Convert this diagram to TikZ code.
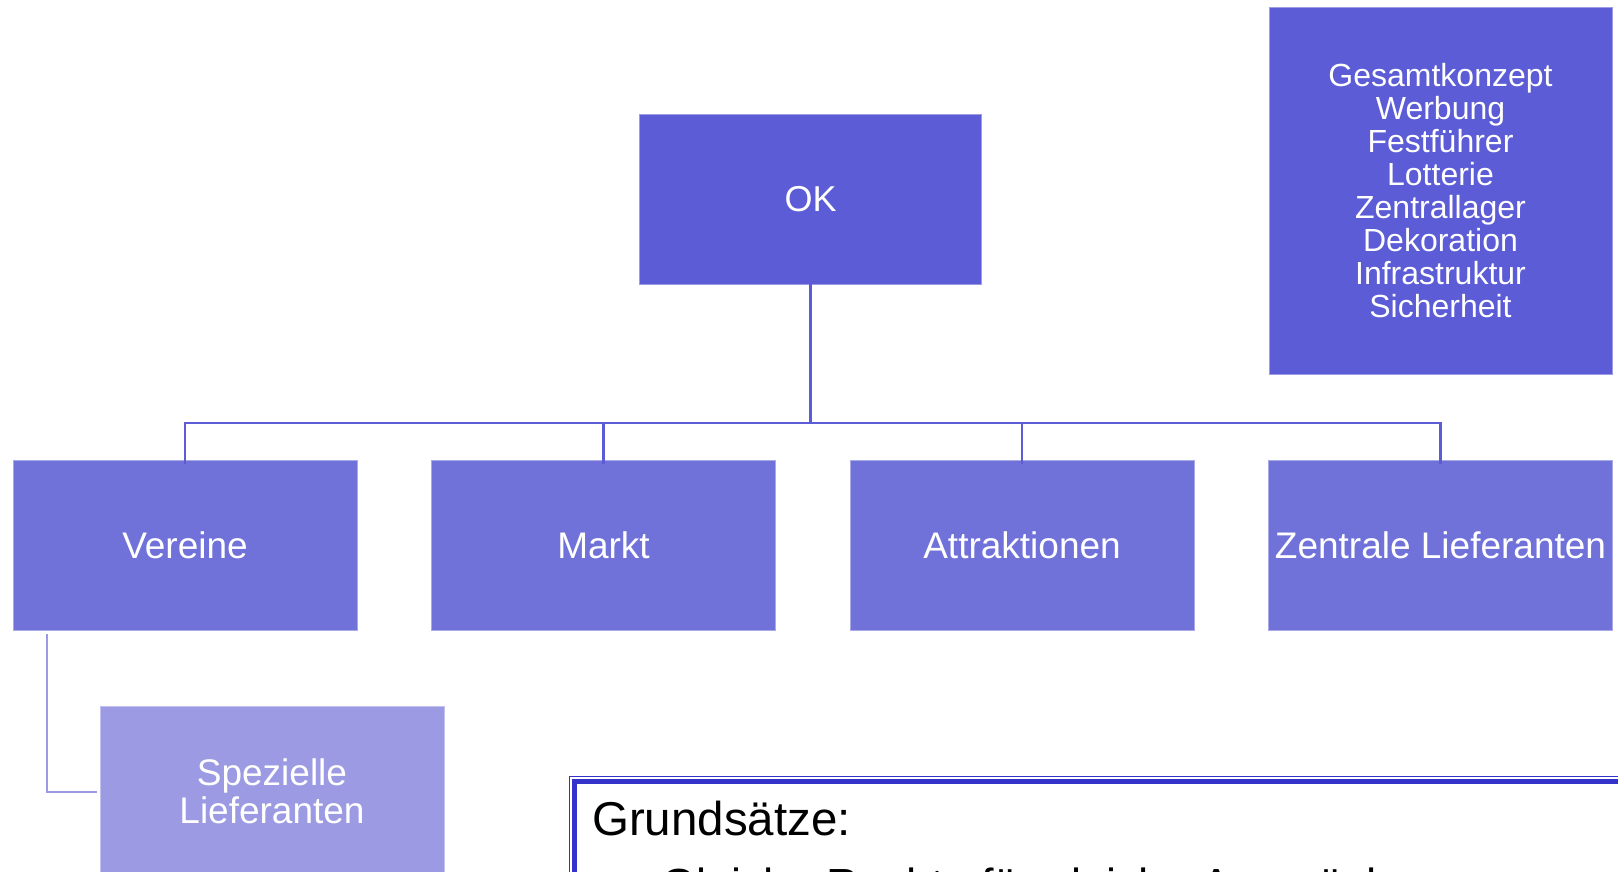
\documentclass[tikz,border=0pt]{standalone}
\usepackage{fontspec}
\setmainfont{Liberation Sans}
\definecolor{darkbox}{RGB}{91,92,214}
\definecolor{midbox}{RGB}{112,114,217}
\definecolor{lightbox}{RGB}{155,154,227}
\definecolor{linecol}{RGB}{91,92,214}
\definecolor{framecol}{RGB}{51,51,204}
\begin{document}
\begin{tikzpicture}[x=1pt,y=-1pt,
  box/.style={rectangle, inner sep=0pt, text=white, align=center, line width=0.8pt},
  topbox/.style={box, fill=darkbox, draw=darkbox!60!white},
  childbox/.style={box, fill=midbox, draw=midbox!60!white, minimum width=344pt, minimum height=170pt, font=\fontsize{37}{38}\selectfont},
  subbox/.style={box, fill=lightbox, draw=lightbox!60!white, minimum width=344pt, minimum height=170pt, font=\fontsize{37}{38}\selectfont},
  conn/.style={draw=linecol, line width=2.6pt},
  subconn/.style={draw=lightbox, line width=2.2pt}
]
\useasboundingbox (0,0) rectangle (1618,872);
\clip (0,0) rectangle (1618,872);
\fill[white] (0,0) rectangle (1618,872);

% top nodes
\node[topbox, minimum width=342pt, minimum height=170pt, font=\fontsize{36}{40}\selectfont] (ok) at (810.5,199) {OK};
\node[topbox, minimum width=343pt, minimum height=367pt, font=\fontsize{32}{33}\selectfont] (list) at (1440.5,190.5)
  {Gesamtkonzept\\Werbung\\Festführer\\Lotterie\\Zentrallager\\Dekoration\\Infrastruktur\\Sicherheit};

% children
\node[childbox] (vereine) at (185,545.5) {Vereine};
\node[childbox] (markt) at (603.5,545.5) {Markt};
\node[childbox] (attr) at (1022,545.5) {Attraktionen};
\node[childbox] (zentral) at (1440.5,545.5) {Zentrale Lieferanten};

% sub box
\node[subbox] (spez) at (272,791) {Spezielle\\Lieferanten};

% bus connectors
\coordinate (bus) at (810.5,423);
\draw[conn] ([yshift=3pt]ok.south) -- (bus);
\draw[conn] ([yshift=-4pt]vereine.north) |- (bus);
\draw[conn] ([yshift=-4pt]markt.north) |- (bus);
\draw[conn] ([yshift=-4pt]attr.north) |- (bus);
\draw[conn] ([yshift=-4pt]zentral.north) |- (bus);

% sub connector
\coordinate (vtop) at (47,634);
\draw[subconn] (vtop) |- ([xshift=-3pt]spez.west |- 0,792);

% Grundsaetze box
\coordinate (gtl) at (569,776);
\draw[framecol, line width=1pt] (gtl) rectangle (1700,1000);
\draw[framecol, line width=4.5pt] (574.5,781.5) rectangle (1700,1000);
\node[anchor=base west, inner sep=0pt, font=\fontsize{47.5}{50}\selectfont] (gtitle) at (592,835) {Grundsätze:};
\node[anchor=base west, inner sep=0pt, font=\fontsize{45}{48}\selectfont] (gline) at (661,900) {Gleiche Rechte für gleiche Ansprüche};
\end{tikzpicture}
\end{document}
